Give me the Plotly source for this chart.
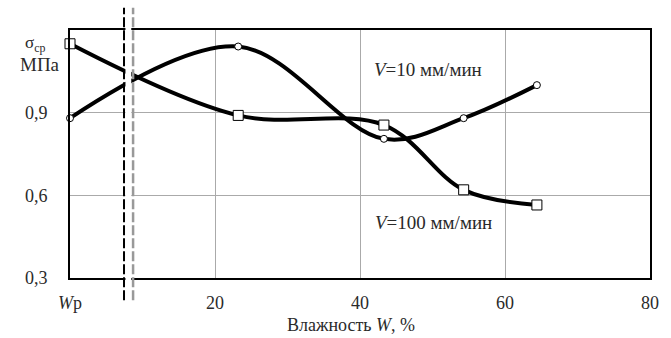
import plotly.graph_objects as go

# Data
x_v10 = [0, 23.2, 43.3, 54.3, 64.4]
y_v10 = [0.88, 1.14, 0.805, 0.88, 1.00]
x_v100 = [0, 23.2, 43.3, 54.3, 64.4]
y_v100 = [1.15, 0.89, 0.855, 0.62, 0.565]

x_tickvals = [0, 20, 40, 60, 80]
x_ticktext = ["<i>W</i>р", "20", "40", "60", "80"]
y_tickvals = [0.3, 0.6, 0.9]
y_ticktext = ["0,3", "0,6", "0,9"]

FONT = "Liberation Serif, Times New Roman, serif"
TXT = "#2a2a2a"

fig = go.Figure()
fig.add_trace(go.Scatter(
    x=x_v10, y=y_v10, mode="lines+markers",
    line=dict(color="black", width=4, shape="spline", smoothing=1),
    marker=dict(symbol="circle", size=7, color="white", line=dict(color="black", width=1)),
    cliponaxis=False, showlegend=False))
fig.add_trace(go.Scatter(
    x=x_v100, y=y_v100, mode="lines+markers",
    line=dict(color="black", width=4, shape="spline", smoothing=1),
    marker=dict(symbol="square", size=10, color="white", line=dict(color="black", width=1)),
    cliponaxis=False, showlegend=False))

# axis break band with dashed lines
fig.add_shape(type="rect", xref="x", yref="paper", x0=7.65, x1=8.45, y0=-0.09, y1=1.09,
              fillcolor="white", line=dict(width=0), layer="above")
fig.add_shape(type="line", xref="x", yref="paper", x0=7.45, x1=7.45, y0=-0.09, y1=1.09,
              line=dict(color="black", width=2, dash="10px,3px"), layer="above")
fig.add_shape(type="line", xref="x", yref="paper", x0=8.7, x1=8.7, y0=-0.09, y1=1.09,
              line=dict(color="#999999", width=2.5, dash="10px,3px"), layer="above")

fig.add_annotation(x=41.7, y=1.058, xref="x", yref="y", xanchor="left", yanchor="middle",
                   text="<i>V</i>=10 мм/мин", showarrow=False,
                   font=dict(family=FONT, size=19, color=TXT))
fig.add_annotation(x=41.8, y=0.5, xref="x", yref="y", xanchor="left", yanchor="middle",
                   text="<i>V</i>=100 мм/мин", showarrow=False,
                   font=dict(family=FONT, size=19, color=TXT))
fig.add_annotation(x=-0.06, y=0.944, xref="paper", yref="paper", xanchor="center", yanchor="middle",
                   text="σ<sub>ср</sub>", showarrow=False,
                   font=dict(family=FONT, size=17, color=TXT))
fig.add_annotation(x=-0.052, y=0.859, xref="paper", yref="paper", xanchor="center", yanchor="middle",
                   text="МПа", showarrow=False,
                   font=dict(family=FONT, size=19, color=TXT))
fig.add_annotation(x=0.484, y=-0.19, xref="paper", yref="paper", xanchor="center", yanchor="middle",
                   text="Влажность <i>W</i>, %", showarrow=False,
                   font=dict(family=FONT, size=18, color=TXT))

fig.update_xaxes(range=[0, 80], tickvals=x_tickvals, ticktext=x_ticktext,
                 showgrid=True, gridcolor="#aaaaaa", gridwidth=1,
                 showline=True, linecolor="black", linewidth=2, mirror=True,
                 ticks="outside", ticklen=7, tickcolor="rgba(0,0,0,0)",
                 tickfont=dict(family=FONT, size=18, color=TXT), zeroline=False)
fig.update_yaxes(range=[0.3, 1.2], tickvals=y_tickvals, ticktext=y_ticktext,
                 showgrid=True, gridcolor="#aaaaaa", gridwidth=1,
                 showline=True, linecolor="black", linewidth=2, mirror=True,
                 ticks="outside", ticklen=17, tickcolor="rgba(0,0,0,0)",
                 tickfont=dict(family=FONT, size=18, color=TXT), zeroline=False)

fig.update_layout(width=671, height=338, margin=dict(l=70, r=12, t=30, b=60),
                  plot_bgcolor="white", paper_bgcolor="white",
                  font=dict(family=FONT))
fig.write_html("out.html")
